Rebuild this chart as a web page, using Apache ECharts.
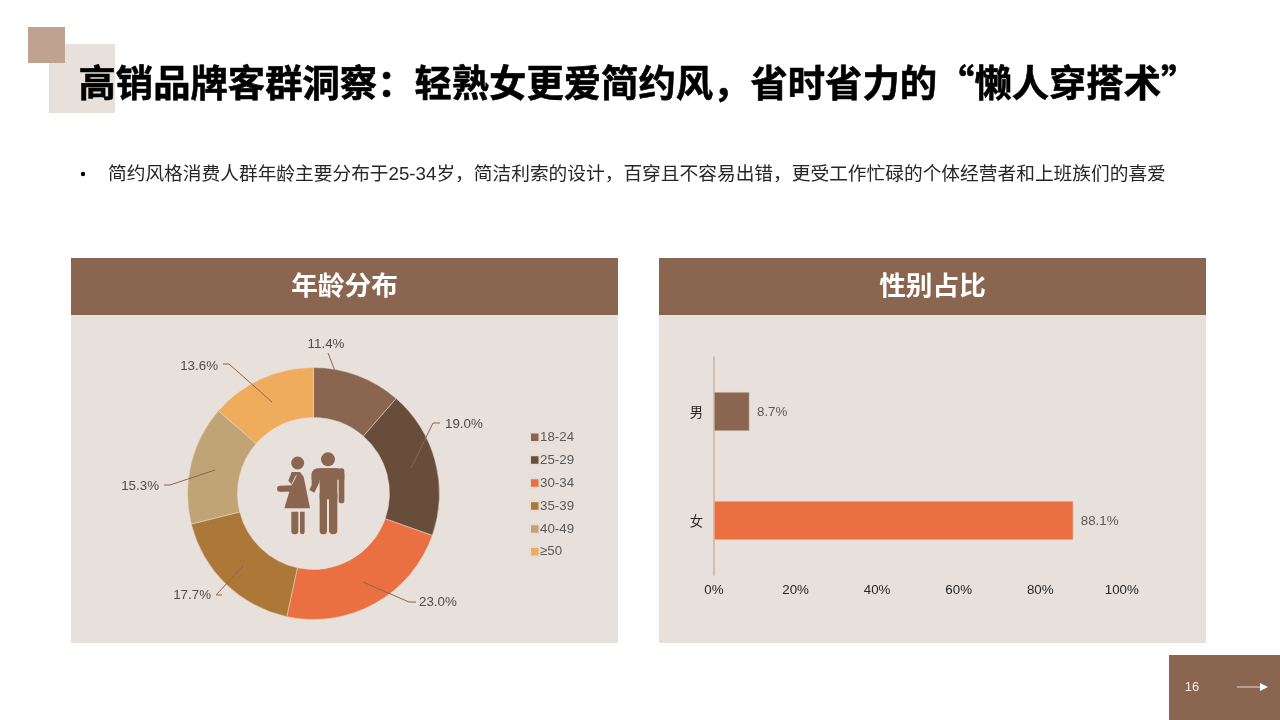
<!DOCTYPE html>
<html><head><meta charset="utf-8">
<style>html,body{margin:0;padding:0;background:#fff}#c{width:1280px;height:720px}</style>
<script src="https://cdn.jsdelivr.net/npm/echarts@6/dist/echarts.min.js"></script>
</head><body><div id="c"></div>
<script>
const titleText = '高销品牌客群洞察\uFF1A轻熟女更爱简约风\uFF0C省时省力的\u201C懒人穿搭术\u201D';
const bulletText = '简约风格消费人群年龄主要分布于25-34岁\uFF0C简洁利索的设计\uFF0C百穿且不容易出错\uFF0C更受工作忙碌的个体经营者和上班族们的喜爱';
const ageCategories = ['18-24','25-29','30-34','35-39','40-49','≥50'];
const ageValues = [11.4,19.0,23.0,17.7,15.3,13.6];
const ageColors = ['#8a6650','#694d3b','#ea7042','#ac7837','#c0a475','#eeac5c'];
const genderCategories = ['女','男'];
const genderValues = [88.1,8.7];
const genderColors = ['#ea7042','#8a6650'];

// label anchor + leader polyline for each slice (page px)
const leaderLayout = [
  {x:326,y:344,a:'center',pts:[[328,353],[328,353],[335,371]]},
  {x:445,y:424,a:'left',pts:[[440,423],[433,423],[411,468]]},
  {x:419,y:602.5,a:'left',pts:[[416,602],[409,602],[363,582]]},
  {x:211,y:595.5,a:'right',pts:[[222,595],[216,595],[243,566]]},
  {x:159,y:486,a:'right',pts:[[164,485],[170,485],[215,470]]},
  {x:218,y:366,a:'right',pts:[[223,364],[229,364],[272,402]]}
];
const FONT = '"Liberation Sans","Noto Sans CJK SC",sans-serif';
const CJK = '"Noto Sans CJK SC","Liberation Sans",sans-serif';
const BROWN = '#8a6650', PANEL = '#e8e0da';

const chart = echarts.init(document.getElementById('c'), null, {renderer:'canvas'});
const rect = (x,y,w,h,fill,z)=>({type:'rect',shape:{x,y,width:w,height:h},style:{fill},z:z||0,silent:true});
const text = (x,y,t,font,fill,opt)=>({type:'text',x,y,z:5,silent:true,style:Object.assign({text:t,font,fill,textAlign:'left',textVerticalAlign:'middle'},opt)});
const iconRect = (x,y,w,h,r)=>({type:'rect',shape:{x,y,width:w,height:h,r},style:{fill:BROWN},z:5});
const iconPoly = pts=>({type:'polygon',shape:{points:pts},style:{fill:BROWN},z:5});
const iconDot = (cx,cy,r)=>({type:'circle',shape:{cx,cy,r},style:{fill:BROWN},z:5});

chart.setOption({
  animation:false,
  backgroundColor:'#ffffff',
  graphic:{elements:[
    rect(49,44,66,69,PANEL,0),
    rect(28,27,37,36,'#bfa28f',1),
    text(78.5,83,titleText,'bold 37.33px '+CJK,'#000000',{stroke:'#000',lineWidth:0.6}),
    {type:'circle',shape:{cx:83,cy:174,r:2.2},style:{fill:'#000'},silent:true,z:5},
    text(108,175,bulletText,'18.72px '+FONT,'#262626'),
    rect(71,258,547,385,PANEL,0),
    rect(71,258,547,57,BROWN,1),
    rect(659,258,547,385,PANEL,0),
    rect(659,258,547,57,BROWN,1),
    text(344.5,285,'年龄分布','bold 26.67px '+CJK,'#ffffff',{textAlign:'center'}),
    text(932.5,285,'性别占比','bold 26.67px '+CJK,'#ffffff',{textAlign:'center'}),
    rect(1169,655,111,65,BROWN,1),
    text(1192,687,'16','13px '+FONT,'#f2ece7',{textAlign:'center'}),
    {type:'line',shape:{x1:1237,y1:687,x2:1260,y2:687},style:{stroke:'#d8c8bd',lineWidth:1.2},z:5,silent:true},
    {type:'polygon',shape:{points:[[1260,683],[1268,687],[1260,691]]},style:{fill:'#ffffff'},z:5,silent:true},
    {type:'group',x:260,y:440,scaleX:1/3,scaleY:1/3,z:5,silent:true,children:[
      iconDot(204,58,21), iconDot(113,69,19.5),
      iconRect(155,85,98,34,[18,18,0,0]),
      iconRect(236,85,17,105,[8,8,8,8]),
      iconRect(179,85,53,93,0),
      iconRect(179,160,22,123,[0,0,11,11]),
      iconRect(207,160,25,123,[0,0,12,12]),
      iconPoly([[155,100],[179,100],[179,125],[163,158],[148,150],[155,135]]),
      iconPoly([[95,96],[120,96],[131,110],[150,205],[73,205],[88,155],[60,155],[60,137],[97,136],[85,122]]),
      iconDot(60,146,9),
      iconRect(94,215,21,68,[0,0,10,10]),
      iconRect(120,215,14,68,[0,0,10,10]),
      {type:'line',shape:{x1:109,y1:106,x2:96,y2:132},style:{stroke:PANEL,lineWidth:3},z:6}
    ]}
  ]},
  legend:{
    orient:'vertical',left:524,top:425.5,itemWidth:9.5,itemHeight:9.5,itemGap:9.6,icon:'rect',
    data:ageCategories,
    textStyle:{fontFamily:FONT,fontSize:13.33,color:'#595959',padding:[0,0,0,-4.5]}
  },
  grid:{left:714,top:357,width:407.8,height:218},
  xAxis:{
    type:'value',min:0,max:100,interval:20,
    axisLine:{show:false},axisTick:{show:false},splitLine:{show:false},
    axisLabel:{formatter:'{value}%',fontFamily:FONT,fontSize:13.33,color:'#262626',margin:9}
  },
  yAxis:{
    type:'category',data:genderCategories,
    axisLine:{show:true,lineStyle:{color:'#c9b3a3',width:1.5}},axisTick:{show:false},
    axisLabel:{fontFamily:CJK,fontSize:13.33,color:'#262626',margin:11}
  },
  series:[
    {
      type:'pie',center:[313.5,493.5],radius:[76,126],startAngle:90,clockwise:true,
      avoidLabelOverlap:false,
      itemStyle:{borderColor:'#e8dcd2',borderWidth:0.5},
      emphasis:{disabled:true},
      data:ageCategories.map((n,i)=>({name:n,value:ageValues[i],itemStyle:{color:ageColors[i]}})),
      label:{show:false},labelLine:{show:false}
    },
    {
      type:'pie',z:3,silent:true,center:[313.5,493.5],radius:[76,126],startAngle:90,clockwise:true,
      avoidLabelOverlap:false,
      itemStyle:{color:'rgba(0,0,0,0)',borderWidth:0},
      emphasis:{disabled:true},
      data:ageCategories.map((n,i)=>({name:n,value:ageValues[i]})),
      label:{show:true,position:'outside',fontFamily:FONT,fontSize:13.33,color:'#4d4d4d',
        formatter:p=>p.value.toFixed(1)+'%'},
      labelLine:{show:true,smooth:false,lineStyle:{color:BROWN,width:1}},
      labelLayout:p=>{
        const l=leaderLayout[p.dataIndex];
        return {x:l.x,y:l.y,align:l.a,verticalAlign:'middle',labelLinePoints:l.pts};
      }
    },
    {
      type:'bar',barWidth:39,
      data:genderValues.map((v,i)=>({value:v,itemStyle:{color:genderColors[i]}})),
      itemStyle:{borderColor:'#e8cfc0',borderWidth:0.5},
      emphasis:{disabled:true},
      label:{show:true,position:'right',distance:7.5,offset:[0,1],fontFamily:FONT,fontSize:13.33,color:'#595959',
        formatter:p=>p.value.toFixed(1)+'%'}
    }
  ]
});
</script></body></html>
